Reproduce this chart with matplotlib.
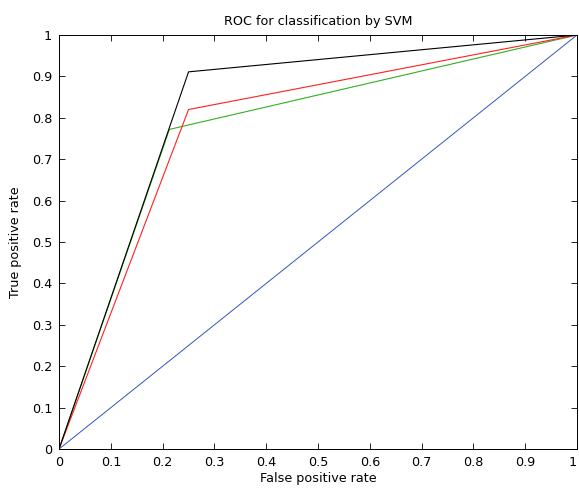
import matplotlib
matplotlib.use("Agg")
import matplotlib.pyplot as plt
import matplotlib.transforms as mtransforms

plt.rcParams['font.family'] = ['DejaVu Sans']

diag_x = [0, 1]
diag_y = [0, 1]
black_x = [0, 0.25, 1]
black_y = [0, 0.911, 1]
red_x = [0, 0.25, 1]
red_y = [0, 0.82, 1]
green_x = [0, 0.213, 1]
green_y = [0, 0.772, 1]
ticks = [0, 0.1, 0.2, 0.3, 0.4, 0.5, 0.6, 0.7, 0.8, 0.9, 1]
tick_labels = ['0', '0.1', '0.2', '0.3', '0.4', '0.5', '0.6', '0.7', '0.8', '0.9', '1']

fs = 9.2
fig = plt.figure(figsize=(5.79, 4.91), dpi=100)
ax = fig.add_axes([0.102, 0.0855, 0.8945, 0.8432])

ax.plot(diag_x, diag_y, color='#3355bb', lw=0.7)
ax.plot(green_x, green_y, color='#30b020', lw=0.8)
ax.plot(red_x, red_y, color='#ff2020', lw=0.8)
ax.plot(black_x, black_y, color='#000000', lw=0.8)

ax.set_xlim(0, 1)
ax.set_ylim(0, 1)
ax.set_xticks(ticks)
ax.set_xticklabels(tick_labels)
ax.set_yticks(ticks)
ax.set_yticklabels(tick_labels)
ax.tick_params(direction='in', top=True, right=True, length=4, width=0.6, labelsize=fs)
ax.tick_params(axis='x', pad=5)
ax.tick_params(axis='y', pad=5)
for s in ax.spines.values():
    s.set_linewidth(0.7)
ax.set_xlabel('False positive rate', fontsize=fs, labelpad=2)
ax.set_ylabel('True positive rate', fontsize=fs, labelpad=7)
ax.set_title('ROC for classification by SVM', fontsize=fs, pad=7)

last = ax.get_xticklabels()[-1]
last.set_transform(last.get_transform() + mtransforms.ScaledTranslation(-4 / 100, 0, fig.dpi_scale_trans))

fig.savefig('out.png', dpi=100)
